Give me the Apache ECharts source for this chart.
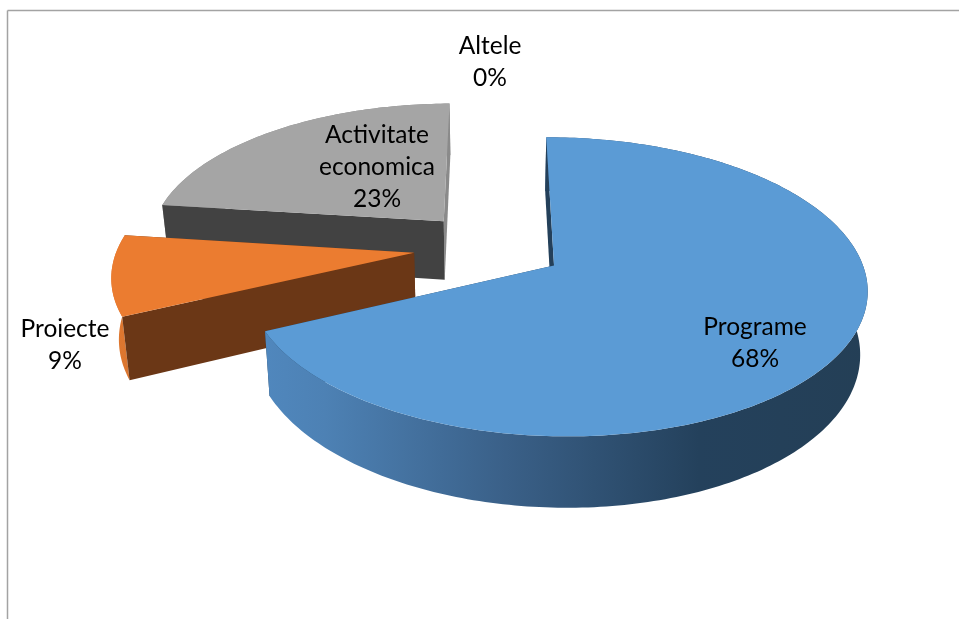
<!DOCTYPE html>
<html><head><meta charset="utf-8">
<style>html,body{margin:0;padding:0;background:#fff}#c{width:959px;height:619px}</style>
<script src="https://cdn.jsdelivr.net/npm/echarts@6/dist/echarts.min.js"></script>
</head><body><div id="c"></div>
<script>
const categories = ["Programe", "Proiecte", "Activitate economica", "Altele"];
const labelLines = [["Programe"], ["Proiecte"], ["Activitate", "economica"], ["Altele"]];
const shares = [68, 9, 23, 0];
const drawOrder = [2, 1, 0, 3];

// camera and pie geometry (not data)
const CAM = {cx: 492, cy: 247, k: 300, m: 141, p: 0.14, r: 0.008, h: 60, q: 0.02};
const EXPLODE = [0.24, 0.262, 0.25, 0.24];
const LABEL_POS = [[755, 343], [65, 345], [377, 167], [490, 62]];
const STYLE = [
  {top: '#5B9BD5', cutA: '#24405A', cutB: '#24405A',
   wall: [[0, '#5087BD'], [0.1, '#4D81B4'], [0.4, '#3A6088'], [0.72, '#24415C'], [1, '#243F56']]},
  {top: '#EB7C30', cutA: '#6B3716', cutB: '#6B3716', wall: [[0, '#E07830'], [1, '#D9752F']]},
  {top: '#A5A5A5', cutA: '#424242', cutB: '#8A8A8A', wall: [[0, '#8A8A8A'], [1, '#8A8A8A']]},
  {top: '#FFC000', cutA: '#7F6000', cutB: '#7F6000', wall: [[0, '#7F6000'], [1, '#7F6000']]}
];

const total = shares.reduce((a, b) => a + b, 0);
const starts = [];
shares.reduce((acc, v, i) => { starts[i] = acc; return acc + v; }, 0);

function project(X, Y, z) {
  const w = 1 - CAM.p * Y - CAM.r * X;
  return [CAM.cx + CAM.k * X / w * (1 - CAM.q * z), CAM.cy + (CAM.m * Y + CAM.h * z) / w];
}
function sliceElements(idx) {
  const a0 = starts[idx] / total * 2 * Math.PI;
  const a1 = (starts[idx] + shares[idx]) / total * 2 * Math.PI;
  const mid = (a0 + a1) / 2;
  const ox = Math.sin(mid) * EXPLODE[idx], oy = -Math.cos(mid) * EXPLODE[idx];
  const pt = (a, z) => project(ox + Math.sin(a), oy - Math.cos(a), z);
  const n = Math.max(2, Math.ceil((a1 - a0) / (Math.PI / 180)));
  const arcTop = [], arcBot = [];
  for (let i = 0; i <= n; i++) {
    const a = a0 + (a1 - a0) * i / n;
    arcTop.push(pt(a, 0)); arcBot.push(pt(a, 1));
  }
  const apexT = project(ox, oy, 0), apexB = project(ox, oy, 1);
  const s = STYLE[idx];
  const poly = (points, fill) => ({type: 'polygon', shape: {points}, style: {fill, stroke: null}});
  const grad = {type: 'linear', x: 0, y: 0, x2: 1, y2: 0,
    colorStops: s.wall.map(c => ({offset: c[0], color: c[1]}))};
  return [
    poly([apexT, arcTop[n], arcBot[n], apexB], s.cutB),
    poly(arcTop.concat(arcBot.slice().reverse()), grad),
    poly([apexT, arcTop[0], arcBot[0], apexB], s.cutA),
    poly([apexT].concat(arcTop), s.top)
  ];
}

const chart = echarts.init(document.getElementById('c'), null, {renderer: 'canvas'});
chart.setOption({
  animation: false,
  backgroundColor: '#fff',
  graphic: [
    {type: 'line', silent: true, shape: {x1: 7.5, y1: 10.5, x2: 959, y2: 10.5}, style: {stroke: '#A3A3A3', lineWidth: 1.5}},
    {type: 'line', silent: true, shape: {x1: 7.5, y1: 10.5, x2: 7.5, y2: 619}, style: {stroke: '#A3A3A3', lineWidth: 1.5}}
  ],
  series: [
    {
      type: 'custom', coordinateSystem: 'none', silent: true, z: 2,
      data: drawOrder.map(i => [i, shares[i]]),
      renderItem(params, api) {
        const idx = api.value(0);
        if (api.value(1) <= 0) return {type: 'group', children: []};
        return {type: 'group', children: sliceElements(idx)};
      }
    },
    {
      type: 'custom', coordinateSystem: 'none', silent: true, z: 3,
      data: categories.map((c, i) => [i, shares[i]]),
      renderItem(params, api) {
        const idx = api.value(0);
        const txt = labelLines[idx].concat([Math.round(api.value(1) / total * 100) + '%']).join('\n');
        return {type: 'text', x: LABEL_POS[idx][0], y: LABEL_POS[idx][1],
          style: {text: txt, align: 'center', verticalAlign: 'middle', fill: '#000',
            font: '24.5px Lato', lineHeight: 32}};
      }
    }
  ]
});
</script></body></html>
